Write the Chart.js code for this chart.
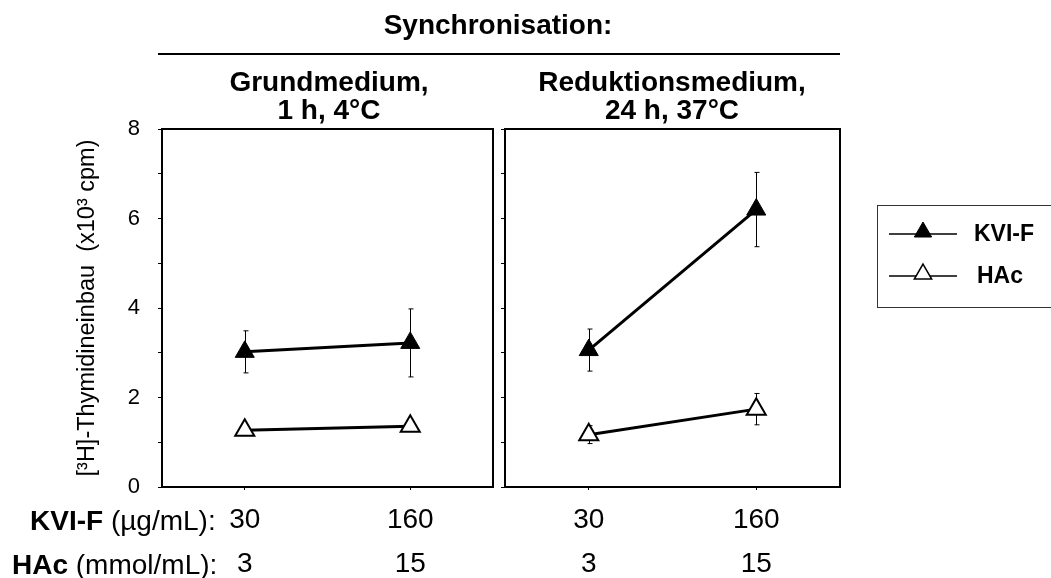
<!DOCTYPE html>
<html>
<head>
<meta charset="utf-8">
<script src="https://cdn.jsdelivr.net/npm/chart.js@4/dist/chart.umd.min.js"></script>
<style>
  html, body { margin: 0; padding: 0; background: #fff; }
  #wrap { position: relative; width: 1051px; height: 578px; overflow: hidden; font-family: 'Liberation Sans', Arial, sans-serif; color: #000; }
  canvas { position: absolute; top: 0; }
  .t { position: absolute; white-space: nowrap; font-size: 28px; line-height: 28px; }
  .b { font-weight: bold; }
  .c { transform: translateX(-50%); text-align: center; }
</style>
</head>
<body>
<div id="wrap">
  <canvas id="left" width="500" height="578" style="left:0"></canvas>
  <canvas id="right" width="556" height="578" style="left:495px"></canvas>

  <div class="t b c" style="left:498px;top:11px">Synchronisation:</div>
  <div style="position:absolute;left:158px;top:53px;width:682px;height:2px;background:#000"></div>
  <div class="t b c" style="left:329px;top:68px">Grundmedium,<br>1 h, 4°C</div>
  <div class="t b c" style="left:672px;top:68px">Reduktionsmedium,<br>24 h, 37°C</div>

  <div class="t" style="left:30px;top:507px"><span class="b">KVI-F</span> (µg/mL):</div>
  <div class="t" style="left:12px;top:551px"><span class="b">HAc</span> (mmol/mL):</div>
</div>

<script>
// x positions and dose labels
const xPos = [1, 2];
const doseKVI = ['30', '160'];
const doseHAc = ['3', '15'];

// Grundmedium, 1 h, 4°C
const kviGrund = [3.02, 3.22];
const kviGrundErr = [0.47, 0.76];
const hacGrund = [1.27, 1.36];
const hacGrundErr = [0.05, 0.05];

// Reduktionsmedium, 24 h, 37°C
const kviRed = [3.06, 6.2];
const kviRedErr = [0.47, 0.83];
const hacRed = [1.17, 1.74];
const hacRedErr = [0.2, 0.35];

const yTitle = '[³H]-Thymidineinbau  (x10³ cpm)';
const legendLabels = ['KVI-F', 'HAc'];

const FONT = "'Liberation Sans', Arial, sans-serif";

function pts(vals) {
  return vals.map((v, i) => ({ x: xPos[i], y: v }));
}

function makeDataset(vals, errs, filled) {
  return {
    data: pts(vals),
    errors: errs,
    borderColor: '#000',
    borderWidth: 3,
    pointStyle: 'triangle',
    pointRadius: 11,
    pointBorderWidth: filled ? 1 : 2,
    pointBorderColor: '#000',
    pointBackgroundColor: filled ? '#000' : '#fff',
    tension: 0
  };
}

// draws the box around the plot area
const framePlugin = {
  id: 'frame',
  beforeDatasetsDraw(chart) {
    const { ctx, chartArea: a } = chart;
    ctx.save();
    ctx.strokeStyle = '#000';
    ctx.lineWidth = 2;
    ctx.strokeRect(a.left, a.top, a.right - a.left, a.bottom - a.top);
    ctx.restore();
  }
};

// vertical error bars with small caps, under the markers
const errorBarPlugin = {
  id: 'errorBars',
  beforeDatasetsDraw(chart) {
    const { ctx } = chart;
    const y = chart.scales.y;
    ctx.save();
    ctx.strokeStyle = '#000';
    ctx.lineWidth = 1;
    chart.data.datasets.forEach((ds, i) => {
      const meta = chart.getDatasetMeta(i);
      meta.data.forEach((pt, j) => {
        const v = ds.data[j].y;
        const e = ds.errors[j];
        const top = y.getPixelForValue(v + e);
        const bot = y.getPixelForValue(v - e);
        const x = Math.round(pt.x) + 0.5;
        ctx.beginPath();
        ctx.moveTo(x, top);
        ctx.lineTo(x, bot);
        ctx.moveTo(x - 2, top);
        ctx.lineTo(x + 3, top);
        ctx.moveTo(x - 2, bot);
        ctx.lineTo(x + 3, bot);
        ctx.stroke();
      });
    });
    ctx.restore();
  }
};

// legend box at the right of the second panel
const legendPlugin = {
  id: 'sideLegend',
  afterDraw(chart) {
    const { ctx } = chart;
    const ox = 382, oy = 205;
    ctx.save();
    ctx.strokeStyle = '#333';
    ctx.lineWidth = 1;
    ctx.strokeRect(ox + 0.5, oy + 0.5, 200, 102);
    const rows = [
      { y: 29, fill: '#000', bw: 1 },
      { y: 71, fill: '#fff', bw: 1.5 }
    ];
    rows.forEach((r, i) => {
      const ly = oy + r.y;
      ctx.strokeStyle = '#000';
      ctx.lineWidth = 1.5;
      ctx.beginPath();
      ctx.moveTo(ox + 12, ly);
      ctx.lineTo(ox + 80, ly);
      ctx.stroke();
      ctx.fillStyle = r.fill;
      ctx.strokeStyle = '#000';
      ctx.lineWidth = r.bw;
      Chart.helpers.drawPoint(ctx, { pointStyle: 'triangle', radius: 10, rotation: 0, borderWidth: r.bw }, ox + 46, ly - 2);
      ctx.fillStyle = '#000';
      ctx.font = 'bold 23px ' + FONT;
      ctx.textBaseline = 'middle';
      ctx.fillText(legendLabels[i], ox + (i === 0 ? 97 : 100), ly + 1);
    });
    ctx.restore();
  }
};

function makeOptions(showY, yWidth, padRight) {
  return {
    responsive: false,
    animation: false,
    layout: { autoPadding: false, padding: { top: 129, right: padRight, left: 0, bottom: 0 } },
    plugins: { legend: { display: false }, tooltip: { enabled: false } },
    scales: {
      x: {
        type: 'linear',
        min: 0.5,
        max: 2.5,
        afterBuildTicks(scale) { scale.ticks = xPos.map(v => ({ value: v })); },
        afterFit(scale) {
          scale.height = 91;
          scale.paddingLeft = 0;
          scale.paddingRight = 0;
        },
        border: { display: true, color: '#000', width: 2 },
        grid: { drawOnChartArea: false, drawTicks: true, tickLength: 3, tickColor: '#000' },
        ticks: {
          padding: 8,
          color: '#000',
          font: { family: FONT, size: 28, lineHeight: 1.57 },
          maxRotation: 0,
          callback: (v, i) => [doseKVI[i], doseHAc[i]]
        }
      },
      y: {
        min: 0,
        max: 8,
        afterFit(scale) {
          scale.width = yWidth;
          scale.paddingTop = 0;
          scale.paddingBottom = 0;
        },
        border: { display: true, color: '#000', width: 2 },
        grid: { drawOnChartArea: false, drawTicks: true, tickLength: 4, tickColor: '#000' },
        ticks: {
          stepSize: 1,
          padding: 18,
          color: '#000',
          font: { family: FONT, size: 22 },
          callback: v => (showY && v % 2 === 0) ? String(v) : ''
        },
        title: {
          display: showY,
          text: yTitle,
          color: '#000',
          font: { family: FONT, size: 23.5 },
          padding: { top: 73, bottom: 0 }
        }
      }
    }
  };
}

new Chart(document.getElementById('left'), {
  type: 'line',
  data: {
    datasets: [
      makeDataset(kviGrund, kviGrundErr, true),
      makeDataset(hacGrund, hacGrundErr, false)
    ]
  },
  options: makeOptions(true, 162, 7),
  plugins: [framePlugin, errorBarPlugin]
});

new Chart(document.getElementById('right'), {
  type: 'line',
  data: {
    datasets: [
      makeDataset(kviRed, kviRedErr, true),
      makeDataset(hacRed, hacRedErr, false)
    ]
  },
  options: makeOptions(false, 10, 211),
  plugins: [framePlugin, errorBarPlugin, legendPlugin]
});
</script>
</body>
</html>
